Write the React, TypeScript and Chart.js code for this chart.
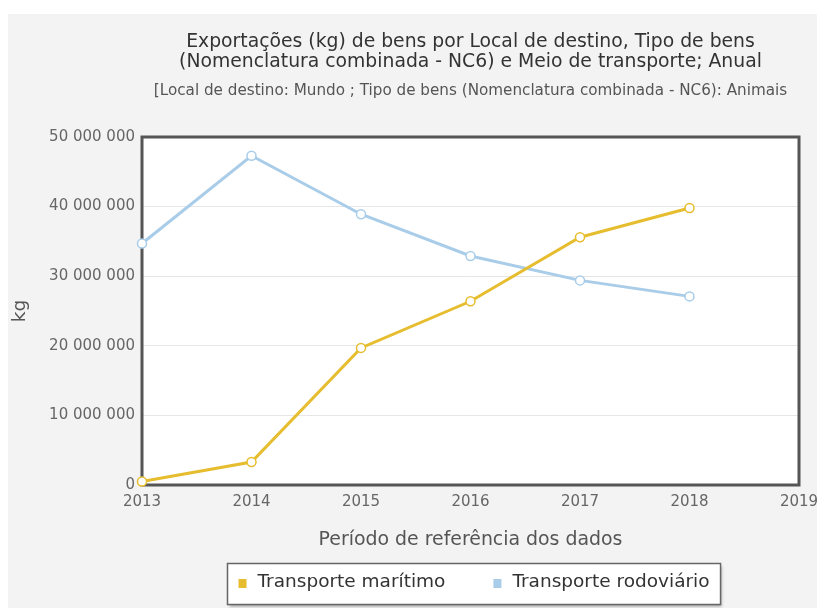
import React, { useEffect, useRef } from 'react';
import { Chart, registerables } from 'chart.js';

Chart.register(...registerables);

const years = ['2013', '2014', '2015', '2016', '2017', '2018', '2019'];
const maritimo = [500000, 3300000, 19700000, 26400000, 35600000, 39800000];
const rodoviario = [34700000, 47300000, 38900000, 32900000, 29400000, 27100000];
const seriesNames = ['Transporte marítimo', 'Transporte rodoviário'];
const seriesColors = ['#e6bd2e', '#a9cde9'];
const titleLines = [
  'Exportações (kg) de bens por Local de destino, Tipo de bens',
  '(Nomenclatura combinada - NC6) e Meio de transporte; Anual',
];
const subtitleText = '[Local de destino: Mundo ; Tipo de bens (Nomenclatura combinada - NC6): Animais';
const xAxisTitle = 'Período de referência dos dados';
const yAxisTitle = 'kg';
const yMin = 0;
const yMax = 50000000;
const yStep = 10000000;

const FONT = '"DejaVu Sans", sans-serif';

const fmt = (v: number) => String(v).replace(/\B(?=(\d{3})+(?!\d))/g, ' ');

const framePlugin = {
  id: 'framePlugin',
  beforeDraw(chart: any) {
    const { ctx, chartArea } = chart;
    const { left, top, right, bottom } = chartArea;
    ctx.save();
    ctx.fillStyle = '#f3f3f3';
    ctx.fillRect(0, 0, chart.width, chart.height);
    ctx.fillStyle = '#ffffff';
    ctx.fillRect(left, top, right - left, bottom - top);
    ctx.restore();
  },
  beforeDatasetsDraw(chart: any) {
    const { ctx, chartArea } = chart;
    const { left, top, right, bottom } = chartArea;
    ctx.save();
    ctx.strokeStyle = '#555555';
    ctx.lineWidth = 3;
    ctx.strokeRect(left, top, right - left, bottom - top);
    ctx.restore();
  },
  afterDraw(chart: any) {
    const { ctx, chartArea } = chart;
    const datasets = chart.data.datasets;
    ctx.save();
    ctx.font = `18.5px ${FONT}`;
    const sq = 8;
    const gap = 11;
    const spacing = 48;
    const padX = 11;
    const widths = datasets.map((d: any) => ctx.measureText(d.label).width);
    let content = 0;
    widths.forEach((w: number, i: number) => {
      content += sq + gap + w + (i < widths.length - 1 ? spacing : 0);
    });
    const boxW = content + padX * 2;
    const cx = (chartArea.left + chartArea.right) / 2 + 3.5;
    const bx = Math.round(cx - boxW / 2) + 0.5;
    const by = chart.height - 45 + 0.5;
    const bh = 41;
    ctx.shadowColor = 'rgba(0,0,0,0.35)';
    ctx.shadowBlur = 3;
    ctx.shadowOffsetX = 1;
    ctx.shadowOffsetY = 2;
    ctx.fillStyle = '#ffffff';
    ctx.fillRect(bx, by, boxW, bh);
    ctx.shadowColor = 'transparent';
    ctx.strokeStyle = '#666666';
    ctx.lineWidth = 1.5;
    ctx.strokeRect(bx, by, boxW, bh);
    let x = bx + padX;
    const cy = by + 19;
    ctx.textBaseline = 'middle';
    ctx.textAlign = 'left';
    datasets.forEach((d: any, i: number) => {
      ctx.fillStyle = d.borderColor;
      ctx.fillRect(x, cy - 3.5, sq, 9);
      ctx.fillStyle = '#333333';
      ctx.fillText(d.label, x + sq + gap, cy);
      x += sq + gap + widths[i] + spacing;
    });
    ctx.restore();
  },
};

export default function App() {
  const ref = useRef<HTMLCanvasElement | null>(null);

  useEffect(() => {
    if (!ref.current) return;
    const chart = new Chart(ref.current, {
      type: 'line',
      data: {
        labels: years,
        datasets: [
          {
            label: seriesNames[0],
            data: maritimo,
            borderColor: seriesColors[0],
            backgroundColor: seriesColors[0],
            borderWidth: 3,
            pointRadius: 4.5,
            pointBorderWidth: 1.5,
            pointBackgroundColor: '#ffffff',
            pointBorderColor: seriesColors[0],
            tension: 0,
            clip: false as any,
          },
          {
            label: seriesNames[1],
            data: rodoviario,
            borderColor: seriesColors[1],
            backgroundColor: seriesColors[1],
            borderWidth: 3,
            pointRadius: 4.5,
            pointBorderWidth: 1.5,
            pointBackgroundColor: '#ffffff',
            pointBorderColor: seriesColors[1],
            tension: 0,
            clip: false as any,
          },
        ],
      },
      options: {
        responsive: false,
        animation: false,
        layout: { padding: { top: 0, left: 0, right: 18, bottom: 54 } },
        plugins: {
          legend: { display: false },
          tooltip: { enabled: false },
          title: {
            display: true,
            text: titleLines,
            fullSize: false,
            color: '#333333',
            font: { family: FONT, size: 18.8, weight: 'normal', lineHeight: '20px' as any },
            padding: { top: 18, bottom: 0 },
          },
          subtitle: {
            display: true,
            text: subtitleText,
            fullSize: false,
            color: '#555555',
            font: { family: FONT, size: 15.2, weight: 'normal', lineHeight: '17px' as any },
            padding: { top: 10.5, bottom: 37.5 },
          },
        },
        scales: {
          x: {
            grid: { display: false, drawTicks: false },
            border: { display: false },
            ticks: {
              color: '#666666',
              font: { family: FONT, size: 15 },
              padding: 8,
              maxRotation: 0,
              autoSkip: false,
            },
            title: {
              display: true,
              text: xAxisTitle,
              color: '#555555',
              font: { family: FONT, size: 18.9 },
              padding: { top: 0, bottom: 2.9 },
            },
            afterFit(scale: any) {
              scale.height = 69;
              scale.paddingLeft = 0;
              scale.paddingRight = 0;
            },
          },
          y: {
            min: yMin,
            max: yMax,
            grid: { color: '#e6e6e6', drawTicks: false },
            border: { display: false },
            ticks: {
              stepSize: yStep,
              color: '#666666',
              font: { family: FONT, size: 15 },
              padding: 7,
              callback: (v: any) => fmt(Number(v)),
            },
            title: {
              display: true,
              text: yAxisTitle,
              color: '#555555',
              font: { family: FONT, size: 18.5 },
              padding: { top: 1, bottom: 0 },
            },
            afterFit(scale: any) {
              scale.width = 134;
              scale.paddingTop = 0;
              scale.paddingBottom = 0;
            },
          },
        },
      },
      plugins: [framePlugin],
    });
    return () => chart.destroy();
  }, []);

  return (
    <div
      style={{
        position: 'fixed',
        left: 8,
        top: 14,
        width: 809,
        height: 594,
        background: '#f3f3f3',
      }}
    >
      <canvas ref={ref} width={809} height={594} style={{ display: 'block' }} />
    </div>
  );
}
